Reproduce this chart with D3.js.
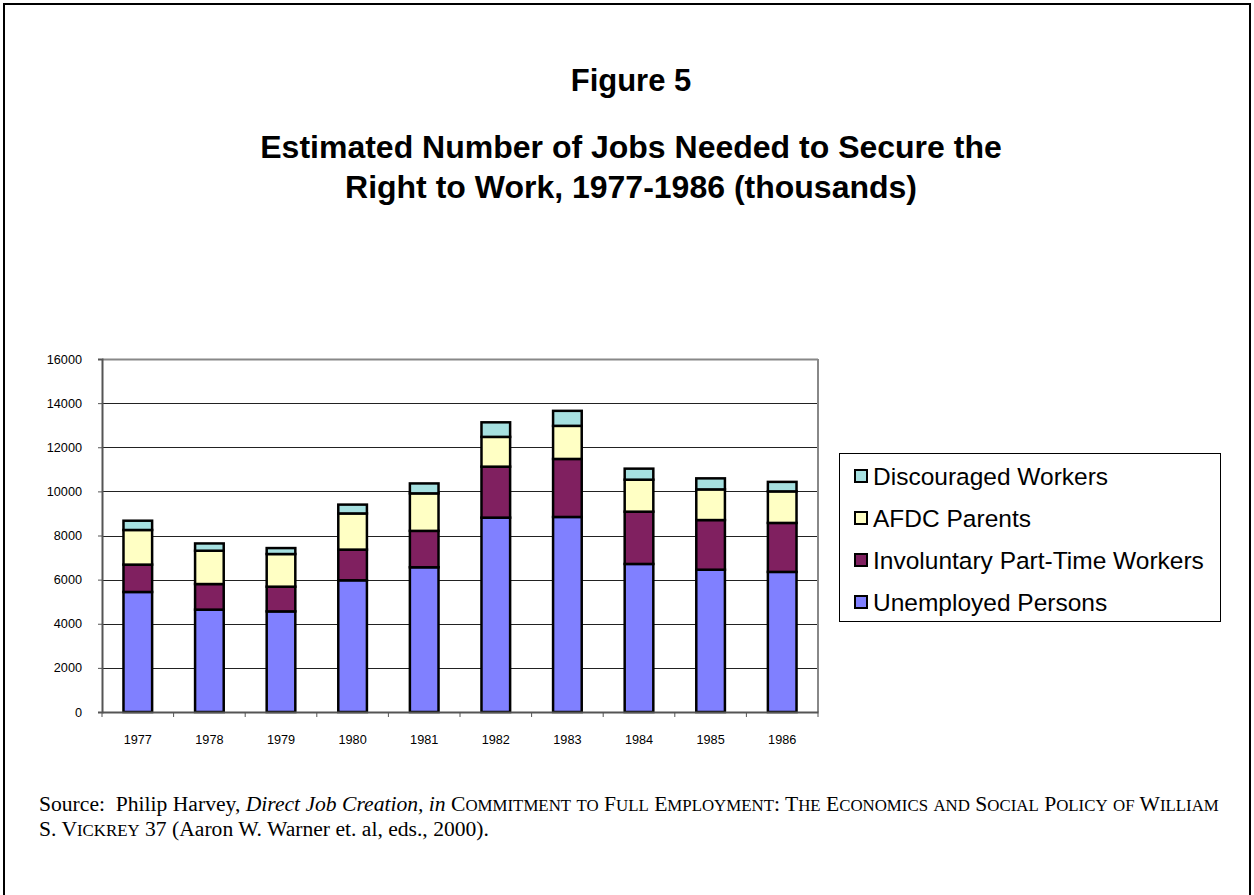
<!DOCTYPE html>
<html>
<head>
<meta charset="utf-8">
<script src="https://cdn.jsdelivr.net/npm/d3@7"></script>
<style>
  html, body { margin: 0; padding: 0; background: #fff; }
  svg { display: block; }
</style>
</head>
<body>
<svg id="chart" width="1254" height="895"></svg>
<script>
const years = ["1977","1978","1979","1980","1981","1982","1983","1984","1985","1986"];
const unemployed = [5440, 4640, 4560, 5970, 6560, 8810, 8840, 6710, 6450, 6350];
const involuntaryPT = [1240, 1160, 1120, 1390, 1650, 2310, 2630, 2370, 2250, 2220];
const afdcParents = [1570, 1510, 1480, 1640, 1700, 1350, 1500, 1450, 1390, 1430];
const discouraged = [420, 330, 270, 400, 450, 660, 680, 500, 500, 430];
const yTicks = [0, 2000, 4000, 6000, 8000, 10000, 12000, 14000, 16000];
const seriesNames = ["Unemployed Persons", "Involuntary Part-Time Workers", "AFDC Parents", "Discouraged Workers"];
const seriesColors = ["#8080ff", "#802060", "#ffffc4", "#a6e0e0"];

(function () {
const svg = d3.select("#chart");
const SANS = "Arial, 'Liberation Sans', sans-serif";
const SERIF = "'Times New Roman', 'Liberation Serif', serif";

// outer frame
svg.append("rect").attr("x", 4).attr("y", 4).attr("width", 1246).attr("height", 900)
  .attr("fill", "none").attr("stroke", "#000").attr("stroke-width", 2);

// titles
svg.append("text").attr("x", 631).attr("y", 91).attr("text-anchor", "middle")
  .style("font-family", SANS).style("font-weight", "bold").style("font-size", "31px")
  .text("Figure 5");
svg.append("text").attr("x", 631).attr("y", 158).attr("text-anchor", "middle")
  .style("font-family", SANS).style("font-weight", "bold").style("font-size", "32px")
  .text("Estimated Number of Jobs Needed to Secure the");
svg.append("text").attr("x", 631).attr("y", 198).attr("text-anchor", "middle")
  .style("font-family", SANS).style("font-weight", "bold").style("font-size", "32px")
  .text("Right to Work, 1977-1986 (thousands)");

// plot area
const pLeft = 102, pRight = 818, pTop = 359, pBottom = 712;
const x = d3.scaleBand().domain(years).range([pLeft, pRight]).paddingInner(0.6).paddingOuter(0.3);
const xb = d3.scaleBand().domain(years).range([pLeft, pRight]);
const y = d3.scaleLinear().domain([0, 16000]).range([pBottom, pTop]);

// gridlines
svg.append("g").selectAll("line").data(yTicks.filter(d => d > 0)).join("line")
  .attr("x1", pLeft).attr("x2", pRight)
  .attr("y1", d => Math.round(y(d)) + 0.5).attr("y2", d => Math.round(y(d)) + 0.5)
  .attr("stroke", d => d === 16000 ? "#888" : "#222").attr("stroke-width", d => d === 16000 ? 2 : 1);
// right border
svg.append("line").attr("x1", pRight).attr("x2", pRight).attr("y1", pTop).attr("y2", pBottom)
  .attr("stroke", "#888").attr("stroke-width", 2);

// stacked data
const table = years.map((yr, i) => ({
  year: yr,
  "Unemployed Persons": unemployed[i],
  "Involuntary Part-Time Workers": involuntaryPT[i],
  "AFDC Parents": afdcParents[i],
  "Discouraged Workers": discouraged[i]
}));
const stack = d3.stack().keys(seriesNames)(table);

svg.append("g").selectAll("g").data(stack).join("g")
  .attr("fill", (d, i) => seriesColors[i])
  .selectAll("rect").data(d => d).join("rect")
  .attr("x", d => x(d.data.year))
  .attr("width", x.bandwidth())
  .attr("y", d => y(d[1]))
  .attr("height", d => y(d[0]) - y(d[1]))
  .attr("stroke", "#000").attr("stroke-width", 2.5);

// y axis
const yAxis = d3.axisLeft(y).tickValues(yTicks).tickSize(4).tickPadding(16).tickFormat(d3.format("d"));
const gy = svg.append("g").attr("transform", `translate(${pLeft},0)`).call(yAxis);
gy.select(".domain").attr("stroke", "#555").attr("stroke-width", 2);
gy.selectAll(".tick line").attr("stroke", "#555");
gy.selectAll("text").style("font-family", SANS).style("font-size", "12.7px").attr("fill", "#000");

// x axis
const xAxis = d3.axisBottom(xb).tickSize(0).tickPadding(23);
const gx = svg.append("g").attr("transform", `translate(0,${pBottom})`).call(xAxis);
gx.select(".domain").attr("stroke", "#555").attr("stroke-width", 2);
gx.selectAll("text").style("font-family", SANS).style("font-size", "12.7px").attr("fill", "#000");
// x tick marks at band boundaries
svg.append("g").selectAll("line").data(years.concat(["end"])).join("line")
  .attr("x1", (d, i) => i < years.length ? xb(d) : pRight)
  .attr("x2", (d, i) => i < years.length ? xb(d) : pRight)
  .attr("y1", pBottom).attr("y2", pBottom + 5)
  .attr("stroke", "#555").attr("stroke-width", 1);

// legend
const lg = svg.append("g");
lg.append("rect").attr("x", 839.5).attr("y", 453.5).attr("width", 381).attr("height", 168)
  .attr("fill", "#fff").attr("stroke", "#000").attr("stroke-width", 1);
const legendOrder = seriesNames.map((n, i) => ({ name: n, color: seriesColors[i] })).reverse();
const li = lg.selectAll("g.item").data(legendOrder).join("g").attr("class", "item")
  .attr("transform", (d, i) => `translate(855, ${476 + i * 42})`);
li.append("rect").attr("x", 0).attr("y", -6).attr("width", 12).attr("height", 12)
  .attr("fill", d => d.color).attr("stroke", "#000").attr("stroke-width", 2);
li.append("text").attr("x", 18).attr("y", 0).attr("dy", "0.36em")
  .style("font-family", SANS).style("font-size", "24.5px")
  .text(d => d.name);

// source (manual small caps)
const FS = 21.6, SC = 0.78;
function smallCaps(textEl, str) {
  const runs = [];
  for (const ch of str) {
    const isLower = ch !== ch.toUpperCase();
    const size = isLower ? FS * SC : FS;
    const c = ch.toUpperCase();
    if (runs.length && runs[runs.length - 1].size === size) runs[runs.length - 1].t += c;
    else runs.push({ t: c, size });
  }
  runs.forEach(r => textEl.append("tspan").style("font-size", r.size + "px").text(r.t));
}
const src = svg.append("g").style("font-family", SERIF).style("font-size", FS + "px").attr("fill", "#000");
const l1 = src.append("text").attr("x", 39).attr("y", 811).attr("xml:space", "preserve");
l1.append("tspan").text("Source:  Philip Harvey, ");
l1.append("tspan").style("font-style", "italic").text("Direct Job Creation, in ");
smallCaps(l1, "Commitment to Full Employment: The Economics and Social Policy of William");
const l2 = src.append("text").attr("x", 39).attr("y", 836).attr("xml:space", "preserve");
smallCaps(l2, "S. Vickrey");
l2.append("tspan").text(" 37 (Aaron W. Warner et. al, eds., 2000).");
})();
</script>
</body>
</html>
